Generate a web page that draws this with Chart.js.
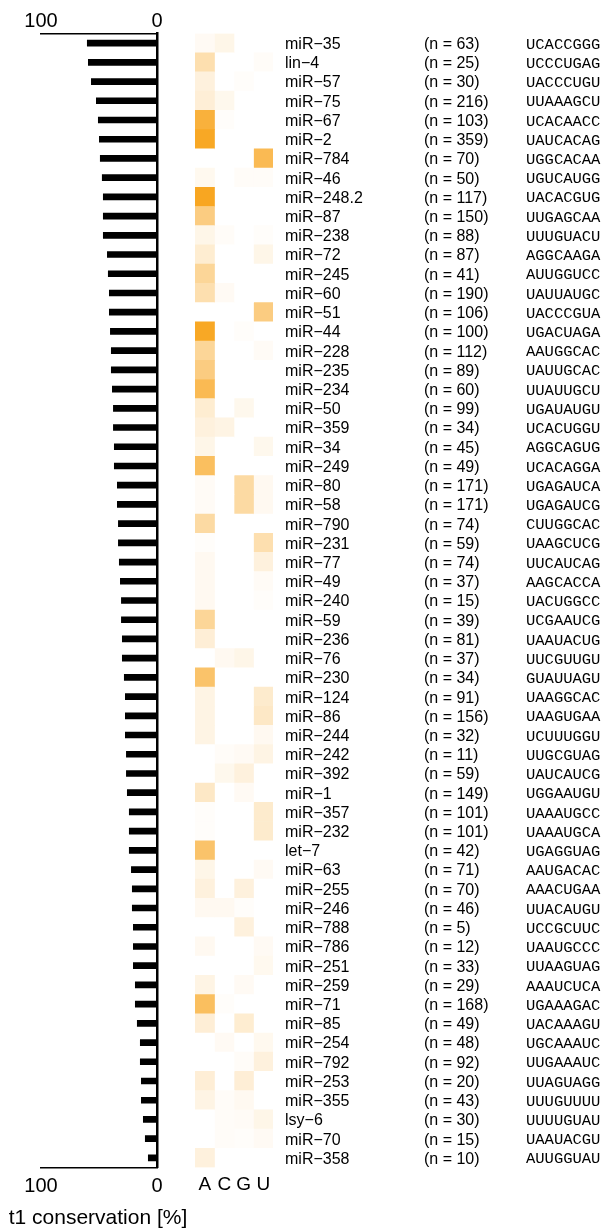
<!DOCTYPE html>
<html><head><meta charset="utf-8">
<script src="https://cdn.jsdelivr.net/npm/chart.js@4.4.0/dist/chart.umd.min.js"></script>
<style>
html,body{margin:0;padding:0;background:#fff;}
body{width:606px;height:1228px;position:relative;overflow:hidden;}
.w{position:absolute;top:0;height:1228px;}
</style></head><body>
<div class="w" style="left:0;width:200px;"><canvas id="c1"></canvas></div>
<div class="w" style="left:180px;width:426px;"><canvas id="c2"></canvas></div>
<script>
const mirnas = ['miR−35','lin−4','miR−57','miR−75','miR−67','miR−2','miR−784','miR−46','miR−248.2','miR−87','miR−238','miR−72','miR−245','miR−60','miR−51','miR−44','miR−228','miR−235','miR−234','miR−50','miR−359','miR−34','miR−249','miR−80','miR−58','miR−790','miR−231','miR−77','miR−49','miR−240','miR−59','miR−236','miR−76','miR−230','miR−124','miR−86','miR−244','miR−242','miR−392','miR−1','miR−357','miR−232','let−7','miR−63','miR−255','miR−246','miR−788','miR−786','miR−251','miR−259','miR−71','miR−85','miR−254','miR−792','miR−253','miR−355','lsy−6','miR−70','miR−358'];
const counts = [63,25,30,216,103,359,70,50,117,150,88,87,41,190,106,100,112,89,60,99,34,45,49,171,171,74,59,74,37,15,39,81,37,34,91,156,32,11,59,149,101,101,42,71,70,46,5,12,33,29,168,49,48,92,20,43,30,15,10];
const seeds = ['UCACCGGG','UCCCUGAG','UACCCUGU','UUAAAGCU','UCACAACC','UAUCACAG','UGGCACAA','UGUCAUGG','UACACGUG','UUGAGCAA','UUUGUACU','AGGCAAGA','AUUGGUCC','UAUUAUGC','UACCCGUA','UGACUAGA','AAUGGCAC','UAUUGCAC','UUAUUGCU','UGAUAUGU','UCACUGGU','AGGCAGUG','UCACAGGA','UGAGAUCA','UGAGAUCG','CUUGGCAC','UAAGCUCG','UUCAUCAG','AAGCACCA','UACUGGCC','UCGAAUCG','UAAUACUG','UUCGUUGU','GUAUUAGU','UAAGGCAC','UAAGUGAA','UCUUUGGU','UUGCGUAG','UAUCAUCG','UGGAAUGU','UAAAUGCC','UAAAUGCA','UGAGGUAG','AAUGACAC','AAACUGAA','UUACAUGU','UCCGCUUC','UAAUGCCC','UUAAGUAG','AAAUCUCA','UGAAAGAC','UACAAAGU','UGCAAAUC','UUGAAAUC','UUAGUAGG','UUUGUUUU','UUUUGUAU','UAAUACGU','AUUGGUAU'];
const conservation = [60.1,59.2,56.6,52.3,50.6,49.7,48.9,47.2,46.3,46.3,46.3,42.8,42.0,41.1,41.1,40.2,39.4,39.4,38.5,37.6,37.6,36.8,36.8,34.2,34.2,33.3,33.3,32.5,31.6,30.7,30.7,29.9,29.9,28.2,27.3,27.3,27.3,26.4,26.4,25.6,23.9,23.9,23.9,22.1,21.3,21.3,20.4,20.4,20.4,18.7,18.7,17.0,14.4,14.4,13.5,13.5,11.8,10.1,7.5];
const axisTitle = 't1 conservation [%]';
const nucleotides = ['A','C','G','U'];
const nucA = [0.05,0.35,0.15,0.18,0.85,0.95,0,0.07,0.97,0.55,0.10,0.20,0.45,0.35,0,0.95,0.45,0.55,0.75,0.20,0.15,0.10,0.70,0.04,0.04,0.40,0.02,0.06,0.06,0.06,0.45,0.18,0,0.65,0.12,0.12,0.12,0,0,0.25,0.02,0.02,0.65,0.10,0.15,0.06,0,0.06,0,0.12,0.70,0.18,0,0,0.18,0.12,0,0,0.15];
const nucC = [0.10,0,0,0.08,0.02,0,0,0,0,0,0.03,0,0,0.05,0,0,0,0,0,0,0.12,0,0,0,0,0,0,0,0,0,0,0,0.06,0,0,0,0,0.03,0.08,0,0,0,0,0,0,0.06,0,0,0,0,0.02,0,0.05,0,0,0.03,0.03,0.03,0];
const nucG = [0,0,0.02,0,0,0,0,0.03,0,0,0,0,0,0,0,0.02,0,0,0,0.08,0,0,0,0.40,0.40,0,0,0,0,0,0,0,0.10,0,0,0,0,0.05,0.15,0.05,0,0,0,0,0.15,0.02,0.15,0,0,0.05,0,0.20,0,0.03,0.18,0.06,0.04,0.02,0];
const nucU = [0,0.03,0,0,0,0,0.75,0.03,0,0,0.02,0.10,0,0,0.55,0,0.04,0,0,0,0,0.08,0,0.06,0.06,0,0.35,0.15,0.04,0.02,0,0,0,0,0.22,0.25,0.06,0.12,0,0,0.22,0.22,0,0.05,0,0,0,0.05,0.07,0,0,0,0.07,0.15,0,0,0.10,0.05,0];
const nucValues = [nucA, nucC, nucG, nucU];

function heatColor(v){
  const r = Math.round(255 - v*(255-248));
  const g = Math.round(255 - v*(255-163));
  const b = Math.round(255 - v*(255-26));
  return `rgb(${r},${g},${b})`;
}

const SANS = 'Liberation Sans, Arial, sans-serif';
const MONO = 'Liberation Mono, Courier New, monospace';

function axisX(pos, h, pad){
  return {
    type:'linear', position:pos, min:0, max:100, reverse:true,
    afterBuildTicks: s => { s.ticks = [{value:100},{value:0}]; },
    grid:{display:false, drawTicks:false},
    border:{display:true, color:'#000', width:1.5},
    ticks:{color:'#000', font:{family:SANS, size:20}, padding:pad, maxRotation:0, autoSkip:false},
    afterFit: s => { s.height = h; }
  };
}

const titlePlugin = {
  id:'axisTitleText',
  afterDraw(chart){
    const ctx = chart.ctx, xs = chart.scales.x2;
    ctx.save();
    ctx.fillStyle = '#000';
    ctx.font = `21px ${SANS}`;
    ctx.textAlign = 'center';
    ctx.textBaseline = 'middle';
    ctx.fillText(axisTitle, (xs.left + xs.right)/2 - 1, xs.top + 50.5);
    ctx.restore();
  }
};

new Chart(document.getElementById('c1'), {
  type:'bar',
  data:{labels:mirnas, datasets:[{data:conservation, backgroundColor:'#000', barThickness:6, xAxisID:'x', yAxisID:'y'}]},
  options:{
    indexAxis:'y', responsive:true, maintainAspectRatio:false, animation:false,
    layout:{padding:{left:41, right:0, top:0, bottom:0}},
    plugins:{legend:{display:false}, tooltip:{enabled:false}},
    scales:{
      x: axisX('top', 33.5, 0),
      x2: axisX('bottom', 60.5, 7),
      y: {type:'category', position:'right', grid:{display:false, drawTicks:false}, ticks:{display:false},
          border:{display:true, color:'#000', width:2.5}, afterFit: s => { s.width = 43; }}
    }
  },
  plugins:[titlePlugin]
});

const rowText = {
  id:'rowText',
  afterDraw(chart){
    const ctx = chart.ctx, ys = chart.scales.y;
    ctx.save();
    ctx.fillStyle = '#000';
    ctx.textBaseline = 'middle';
    ctx.textAlign = 'left';
    mirnas.forEach((m,i) => {
      const y = ys.getPixelForValue(i) + 1.5;
      ctx.font = `16px ${SANS}`;
      ctx.fillText(m, 105, y);
      ctx.fillText(`(n = ${counts[i]})`, 244, y);
      ctx.font = `15.5px ${MONO}`;
      ctx.fillText(seeds[i], 346, y);
    });
    ctx.restore();
  }
};

new Chart(document.getElementById('c2'), {
  type:'bar',
  data:{labels:mirnas, datasets: nucleotides.map((nt,k) => ({
    label:nt, data: mirnas.map(() => 1), backgroundColor: nucValues[k].map(heatColor),
    borderWidth:0, barPercentage:1, categoryPercentage:1, stack:'s'
  }))},
  options:{
    indexAxis:'y', responsive:true, maintainAspectRatio:false, animation:false,
    layout:{padding:{left:15, right:333, top:33.5, bottom:0}},
    plugins:{legend:{display:false}, tooltip:{enabled:false}},
    scales:{
      x:{type:'linear', stacked:true, min:0, max:4, position:'bottom',
         afterBuildTicks: s => { s.ticks = [0.5,1.5,2.5,3.5].map(v => ({value:v})); },
         ticks:{color:'#000', font:{family:SANS, size:19}, padding:6, maxRotation:0, autoSkip:false,
                callback:(v,i) => nucleotides[i]},
         grid:{display:false, drawTicks:false}, border:{display:false},
         afterFit: s => { s.height = 60.5; }},
      y:{type:'category', stacked:true, display:false}
    }
  },
  plugins:[rowText]
});
</script>
</body></html>
